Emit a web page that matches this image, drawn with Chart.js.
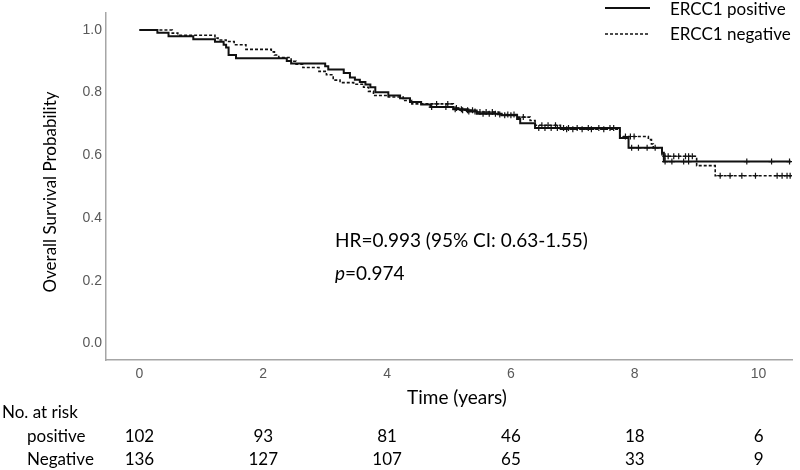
<!DOCTYPE html>
<html><head><meta charset="utf-8">
<script src="https://cdn.jsdelivr.net/npm/chart.js@4.4.1/dist/chart.umd.min.js"></script>
<style>html,body{margin:0;padding:0;background:#fff}#wrap{width:800px;height:470px}</style>
</head><body><div id="wrap"><canvas id="c" width="800" height="470"></canvas></div>
<script>
// Kaplan-Meier steps [time, survival]
const posTimes = [0,0.29,0.47,0.87,1.22,1.36,1.40,1.44,1.56,2.38,2.45,3.00,3.05,3.30,3.40,3.48,3.56,3.65,3.73,3.81,4.02,4.21,4.37,4.55,4.70,5.07,5.30,5.45,5.85,6.10,6.15,6.39,7.76,7.90,8.44,8.47,10.52];
const posSurv  = [1.0,0.991,0.980,0.970,0.962,0.953,0.944,0.920,0.910,0.901,0.893,0.884,0.874,0.863,0.848,0.841,0.834,0.826,0.817,0.801,0.791,0.782,0.770,0.762,0.754,0.747,0.740,0.733,0.728,0.716,0.702,0.687,0.655,0.624,0.608,0.580,0.580];
const negTimes = [0,0.53,0.62,1.22,1.27,1.40,1.53,1.72,2.13,2.18,2.25,2.45,2.53,2.64,2.90,3.02,3.13,3.24,3.46,3.62,3.70,3.78,4.02,4.26,4.40,5.07,5.18,5.45,5.80,6.10,6.31,6.39,6.80,7.76,8.22,8.27,8.30,8.44,9.00,9.30,10.55];
const negSurv  = [1.0,0.990,0.983,0.974,0.968,0.963,0.953,0.938,0.930,0.920,0.912,0.900,0.891,0.880,0.868,0.857,0.840,0.832,0.827,0.817,0.804,0.791,0.786,0.775,0.764,0.751,0.744,0.738,0.730,0.722,0.711,0.696,0.683,0.660,0.650,0.636,0.624,0.597,0.567,0.535,0.535];
// censoring times
const posCensor = [4.72,4.95,5.10,5.20,5.32,5.42,5.55,5.65,5.75,5.90,6.00,6.45,6.55,6.65,6.75,6.85,6.93,7.07,7.25,7.42,7.60,7.66,7.95,8.06,8.20,8.33,8.49,8.60,8.79,8.87,9.81,10.21,10.50];
const negCensor = [4.80,4.98,5.12,5.22,5.30,5.38,5.50,5.60,5.70,5.82,5.95,6.05,6.20,6.50,6.60,6.72,6.90,7.00,7.15,7.30,7.50,7.85,7.93,7.99,8.49,8.54,8.63,8.71,8.82,8.87,8.93,9.38,9.54,9.73,9.95,10.30,10.38,10.46,10.51];
// ticks
const xTicks = [0,2,4,6,8,10];
const yTicks = [0,0.2,0.4,0.6,0.8,1.0];
// number at risk
const riskTimes = [0,2,4,6,8,10];
const riskPositive = [102,93,81,46,18,6];
const riskNegative = [136,127,107,65,33,9];
const seriesNames = ['ERCC1 positive','ERCC1 negative'];

function stepAt(times, surv, t){ let s = surv[0]; for(let i=0;i<times.length;i++){ if(times[i]<=t) s=surv[i]; } return s; }
const toPts = (T,S)=>T.map((t,i)=>({x:t,y:S[i]}));
const censorPts = (C,T,S)=>C.map(c=>({x:c,y:stepAt(T,S,c)}));

const FONT = 'Lato';
const textPlugin = {
  id:'texts',
  afterDraw(chart){
    const ctx = chart.ctx, xs = chart.scales.x;
    ctx.save();
    ctx.fillStyle = '#000';
    // y title
    ctx.save();
    ctx.translate(51, 192); ctx.rotate(-Math.PI/2);
    ctx.font = '17px '+FONT; ctx.textAlign='center'; ctx.textBaseline='middle';
    ctx.fillText('Overall Survival Probability',0,0);
    ctx.restore();
    // x title
    ctx.font = '19px '+FONT; ctx.textAlign='center'; ctx.textBaseline='middle';
    ctx.fillText('Time (years)', 457, 398);
    // HR annotation
    ctx.textAlign='left';
    ctx.font = '19px '+FONT;
    ctx.fillText('HR=0.993 (95% CI: 0.63-1.55)', 335, 241);
    ctx.font = 'italic 19px '+FONT;
    ctx.fillText('p', 335, 274);
    const pw = ctx.measureText('p').width;
    ctx.font = '19px '+FONT;
    ctx.fillText('=0.974', 335+pw, 274);
    // legend
    ctx.strokeStyle = '#111'; ctx.lineWidth = 2;
    ctx.beginPath(); ctx.moveTo(605,8); ctx.lineTo(650,8); ctx.stroke();
    ctx.setLineDash([3,2]); ctx.lineWidth = 1.5;
    ctx.beginPath(); ctx.moveTo(605,34); ctx.lineTo(650,34); ctx.stroke();
    ctx.setLineDash([]);
    ctx.font = '17px '+FONT; ctx.textAlign='left';
    ctx.fillText(seriesNames[0], 670, 10);
    ctx.fillText(seriesNames[1], 670, 35);
    // risk table
    ctx.font = '17px '+FONT;
    ctx.fillText('No. at risk', 2, 413);
    ctx.fillText('positive', 27, 437);
    ctx.fillText('Negative', 27, 460);
    ctx.textAlign='center';
    riskTimes.forEach((t,i)=>{
      const px = xs.getPixelForValue(t);
      ctx.fillText(String(riskPositive[i]), px, 437);
      ctx.fillText(String(riskNegative[i]), px, 460);
    });
    ctx.restore();
  }
};

new Chart(document.getElementById('c'), {
  type:'scatter',
  data:{ datasets:[
    {label:seriesNames[0], data:toPts(posTimes,posSurv), showLine:true, stepped:'before', borderColor:'#111', borderWidth:2, pointRadius:0, fill:false, order:1},
    {label:seriesNames[1], data:toPts(negTimes,negSurv), showLine:true, stepped:'before', borderColor:'#111', borderWidth:1.6, borderDash:[3,2], pointRadius:0, fill:false, order:2},
    {label:'pc', data:censorPts(posCensor,posTimes,posSurv), showLine:false, pointStyle:'cross', pointRadius:3, borderColor:'#111', borderWidth:1.2, backgroundColor:'#111'},
    {label:'nc', data:censorPts(negCensor,negTimes,negSurv), showLine:false, pointStyle:'cross', pointRadius:3, borderColor:'#111', borderWidth:1.2, backgroundColor:'#111'}
  ]},
  options:{
    responsive:false, animation:false, devicePixelRatio:1,
    layout:{padding:{left:0,right:8,top:5,bottom:0}},
    plugins:{legend:{display:false}, tooltip:{enabled:false}},
    scales:{
      x:{type:'linear', min:-0.54, max:10.54,
        afterBuildTicks:s=>{s.ticks = xTicks.map(v=>({value:v}));},
        afterFit:s=>{s.height = 110;},
        grid:{display:false, drawTicks:false}, border:{display:true,color:'#a6a6a6',width:1.5},
        ticks:{color:'#595959', font:{family:'Liberation Sans',size:14}, padding:6, maxRotation:0}},
      y:{type:'linear', min:-0.053, max:1.056,
        afterBuildTicks:s=>{s.ticks = yTicks.map(v=>({value:v}));},
        afterFit:s=>{s.width = 106;},
        grid:{display:false, drawTicks:false}, border:{display:true,color:'#a6a6a6',width:1.5},
        ticks:{color:'#595959', font:{family:'Liberation Sans',size:14}, padding:4, callback:v=>v.toFixed(1)}}
    }
  },
  plugins:[textPlugin]
});
</script></body></html>
